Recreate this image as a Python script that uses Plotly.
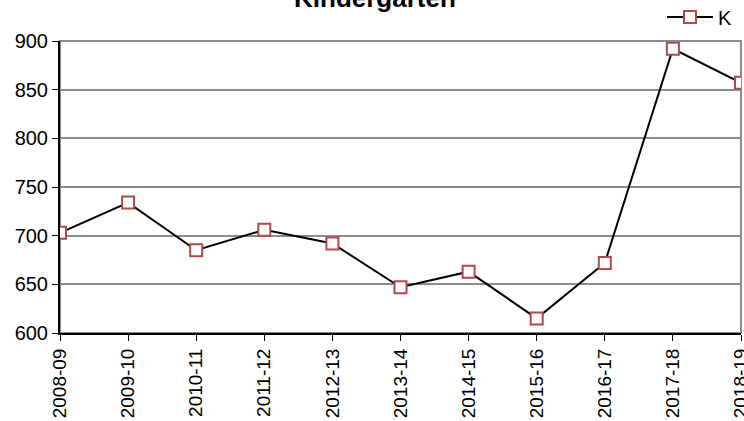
import plotly.graph_objects as go

years = ["2008-09", "2009-10", "2010-11", "2011-12", "2012-13", "2013-14",
         "2014-15", "2015-16", "2016-17", "2017-18", "2018-19"]
k_values = [703, 734, 685, 706, 692, 647, 663, 615, 672, 892, 857]
y_ticks = [600, 650, 700, 750, 800, 850, 900]

fig = go.Figure()
fig.add_trace(go.Scatter(
    x=list(range(len(years))), y=k_values, mode="lines+markers", name="K",
    line=dict(color="black", width=2),
    marker=dict(symbol="square", size=12, color="white",
                line=dict(color="#b04a48", width=2)),
))

fig.update_layout(
    width=744, height=421,
    margin=dict(l=60, r=3, t=41, b=88, autoexpand=False),
    paper_bgcolor="white", plot_bgcolor="white",
    font=dict(family="Liberation Sans, Arial, sans-serif", size=19, color="black"),
    showlegend=True,
    legend=dict(x=662 / 744, xref="container", xanchor="left",
                y=1 - 17 / 421, yref="container", yanchor="middle",
                font=dict(size=20), bgcolor="rgba(0,0,0,0)",
                itemwidth=46, borderwidth=0),
    annotations=[dict(text="<b>Kindergarten</b>", xref="paper", yref="paper",
                      x=(375 - 60) / 681, y=1, xanchor="center", yanchor="middle",
                      yshift=43, showarrow=False, font=dict(size=26))],
    shapes=[dict(type="rect", xref="paper", yref="paper", x0=0, x1=1, y0=0, y1=1,
                 line=dict(color="#8c8c8c", width=2), layer="below")],
)
fig.update_xaxes(
    tickmode="array", tickvals=list(range(len(years))), ticktext=years,
    tickangle=-90, range=[0, 10], showgrid=False,
    showline=True, linecolor="black", linewidth=2,
    ticks="outside", ticklen=6, tickcolor="black", tickwidth=1,
    zeroline=False, tickfont=dict(size=19), ticklabeloverflow="allow",
)
fig.update_yaxes(
    tickmode="array", tickvals=y_ticks, range=[600, 900],
    showgrid=True, gridcolor="#8c8c8c", gridwidth=1.5,
    showline=True, linecolor="black", linewidth=2,
    ticks="outside", ticklen=6, tickcolor="black", tickwidth=1,
    zeroline=False, tickfont=dict(size=20),
)

fig.write_html("out.html", config={"displayModeBar": False},
               post_script="document.body.style.margin='0px';document.body.style.overflow='hidden';")
